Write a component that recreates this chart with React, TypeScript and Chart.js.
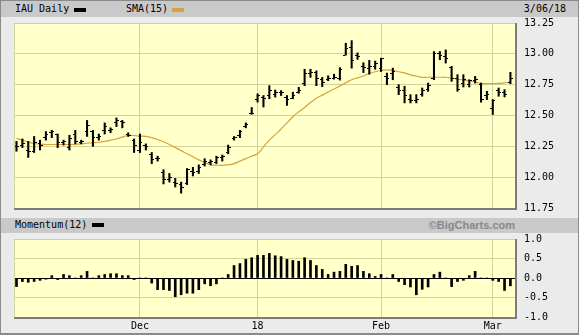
import React, { useEffect, useRef } from 'react';
import { Chart, registerables } from 'chart.js';
Chart.register(...registerables);

// ---- data (IAU daily, Nov 1 2017 .. Mar 6 2018) ----
const highs = [
  12.29, 12.31, 12.29, 12.33, 12.30, 12.37, 12.38, 12.35, 12.30, 12.34,
  12.38, 12.30, 12.46, 12.38, 12.35, 12.44, 12.40, 12.48, 12.46, 12.36,
  12.31, 12.35, 12.27, 12.20, 12.17, 12.06, 12.03, 11.99, 11.96, 12.07,
  12.08, 12.10, 12.15, 12.14, 12.17, 12.18, 12.26, 12.33, 12.38, 12.44,
  12.565, 12.676, 12.662, 12.742, 12.707, 12.702, 12.662, 12.689, 12.729, 12.875,
  12.875, 12.862, 12.809, 12.822, 12.835, 12.888, 13.086, 13.107, 13.008, 12.928,
  12.947, 12.941, 12.965, 12.844, 12.884, 12.75, 12.737, 12.669, 12.669, 12.723,
  12.763, 13.019, 13.019, 13.032, 12.898, 12.831, 12.831, 12.79, 12.817, 12.763,
  12.696, 12.629, 12.723, 12.71, 12.85,
];
const lows = [
  12.21, 12.24, 12.16, 12.20, 12.22, 12.30, 12.32, 12.24, 12.26, 12.22,
  12.27, 12.27, 12.33, 12.25, 12.30, 12.35, 12.36, 12.41, 12.40, 12.33,
  12.20, 12.20, 12.22, 12.11, 12.13, 11.945, 11.96, 11.92, 11.87, 11.94,
  12.01, 12.03, 12.09, 12.10, 12.11, 12.13, 12.19, 12.30, 12.32, 12.40,
  12.51, 12.609, 12.569, 12.636, 12.649, 12.662, 12.582, 12.636, 12.681, 12.742,
  12.809, 12.742, 12.734, 12.782, 12.795, 12.787, 12.99, 12.884, 12.955, 12.848,
  12.835, 12.875, 12.857, 12.75, 12.79, 12.669, 12.602, 12.602, 12.602, 12.656,
  12.696, 12.79, 12.952, 12.925, 12.777, 12.696, 12.731, 12.731, 12.763, 12.608,
  12.629, 12.508, 12.656, 12.65, 12.758,
];
const opens = [
  12.25, 12.26, 12.22, 12.21, 12.27, 12.32, 12.36, 12.35, 12.28, 12.24,
  12.35, 12.28, 12.37, 12.37, 12.32, 12.38, 12.38, 12.44, 12.45, 12.35,
  12.30, 12.22, 12.26, 12.18, 12.15, 12.04, 11.98, 11.96, 11.94, 11.95,
  12.05, 12.05, 12.10, 12.12, 12.12, 12.16, 12.20, 12.31, 12.34, 12.41,
  12.52, 12.63, 12.65, 12.66, 12.67, 12.69, 12.65, 12.64, 12.69, 12.76,
  12.84, 12.85, 12.79, 12.79, 12.80, 12.80, 12.99, 13.05, 12.99, 12.90,
  12.88, 12.90, 12.88, 12.82, 12.84, 12.73, 12.70, 12.63, 12.62, 12.67,
  12.71, 12.80, 13.00, 12.98, 12.89, 12.80, 12.76, 12.75, 12.78, 12.75,
  12.66, 12.56, 12.70, 12.69, 12.77,
];
const closes = [
  12.25, 12.27, 12.21, 12.28, 12.26, 12.35, 12.37, 12.28, 12.29, 12.31,
  12.29, 12.29, 12.42, 12.32, 12.33, 12.41, 12.39, 12.46, 12.44, 12.34,
  12.26, 12.28, 12.25, 12.14, 12.15, 11.98, 12.00, 11.95, 11.92, 12.06,
  12.04, 12.08, 12.13, 12.13, 12.16, 12.17, 12.24, 12.32, 12.37, 12.43,
  12.52, 12.66, 12.64, 12.70, 12.69, 12.69, 12.63, 12.66, 12.70, 12.84,
  12.85, 12.80, 12.77, 12.80, 12.81, 12.87, 13.04, 12.95, 12.98, 12.89,
  12.90, 12.92, 12.96, 12.80, 12.86, 12.70, 12.66, 12.62, 12.63, 12.70,
  12.74, 13.00, 12.99, 12.96, 12.80, 12.71, 12.79, 12.78, 12.79, 12.63,
  12.67, 12.62, 12.69, 12.67, 12.80,
];
const sma15 = [
  12.314, 12.30, 12.285, 12.273, 12.268, 12.265, 12.265, 12.265, 12.265, 12.265,
  12.267, 12.27, 12.275, 12.28, 12.283, 12.29, 12.30, 12.31, 12.325, 12.339,
  12.338, 12.333, 12.33, 12.32, 12.305, 12.287, 12.265, 12.24, 12.215, 12.19,
  12.165, 12.14, 12.12, 12.10, 12.097, 12.096, 12.10, 12.11, 12.13, 12.15,
  12.17, 12.19, 12.245, 12.30, 12.345, 12.39, 12.44, 12.49, 12.53, 12.565,
  12.605, 12.64, 12.665, 12.69, 12.715, 12.74, 12.765, 12.79, 12.805, 12.82,
  12.84, 12.855, 12.865, 12.87, 12.865, 12.855, 12.845, 12.83, 12.82, 12.81,
  12.81, 12.81, 12.81, 12.81, 12.803, 12.795, 12.787, 12.78, 12.77, 12.76,
  12.758, 12.758, 12.76, 12.765, 12.77,
];
const momentum12 = [
  -0.22, -0.09, -0.11, -0.09, -0.06, -0.03, 0.06, -0.04, 0.09, 0.06,
  0, 0.06, 0.17, 0, 0.06, 0.09, 0.11, 0.11, 0.06, 0.06,
  -0.04, 0, 0, -0.13, -0.30, -0.30, -0.32, -0.48, -0.43, -0.39,
  -0.39, -0.30, -0.15, -0.20, -0.15, 0, 0.09, 0.32, 0.37, 0.48,
  0.52, 0.58, 0.58, 0.63, 0.57, 0.55, 0.48, 0.45, 0.43, 0.52,
  0.45, 0.32, 0.22, 0.09, 0.15, 0.17, 0.35, 0.30, 0.32, 0.17,
  0.11, 0.04, 0.09, 0, 0.09, -0.09, -0.17, -0.23, -0.43, -0.29,
  -0.23, 0.09, 0.15, 0, -0.22, -0.09, -0.06, 0.06, 0.17, 0,
  0, -0.06, -0.09, -0.32, -0.20,
];
const monthTickIndex = [21, 41, 62, 81];
const monthTickLabels = ['Dec', '18', 'Feb', 'Mar'];
const priceMin = 11.75;
const priceMax = 13.25;
const priceStep = 0.25;
const momMin = -1;
const momMax = 1;
const momStep = 0.5;

const X_MIN = -0.425;
const X_MAX = 84.78;

const MONO = "'DejaVu Sans Mono', monospace";
const GRID = '#d2d29c';
const SMA_COLOR = '#d6a13e';

function makeTick(side: 'left' | 'right') {
  const c = document.createElement('canvas');
  c.width = 5;
  c.height = 1;
  const g = c.getContext('2d')!;
  g.fillStyle = '#000';
  if (side === 'left') g.fillRect(0, 0, 2, 1);
  else g.fillRect(3, 0, 2, 1);
  return c;
}

function makePattern(ctx: CanvasRenderingContext2D) {
  const c = document.createElement('canvas');
  c.width = 2;
  c.height = 2;
  const g = c.getContext('2d')!;
  g.fillStyle = '#fffff0';
  g.fillRect(0, 0, 2, 2);
  g.fillStyle = '#ffffc8';
  g.fillRect(0, 0, 1, 1);
  g.fillRect(1, 1, 1, 1);
  return ctx.createPattern(c, 'repeat');
}

const panelPlugin = {
  id: 'panel',
  beforeDraw(chart: any) {
    const { ctx, chartArea: a } = chart;
    ctx.save();
    ctx.fillStyle = makePattern(ctx) || '#ffffdd';
    ctx.fillRect(a.left, a.top, a.right - a.left, a.bottom - a.top);
    ctx.restore();
  },
  afterDraw(chart: any) {
    const { ctx, chartArea: a } = chart;
    ctx.save();
    ctx.strokeStyle = GRID;
    ctx.lineWidth = 1;
    ctx.beginPath();
    ctx.moveTo(Math.round(a.left) + 0.5, a.top);
    ctx.lineTo(Math.round(a.left) + 0.5, a.bottom);
    ctx.stroke();
    ctx.strokeStyle = '#7c7c7c';
    ctx.lineWidth = 2;
    ctx.beginPath();
    ctx.moveTo(a.left, Math.round(a.bottom) + 1);
    ctx.lineTo(Math.round(a.right) + 2, Math.round(a.bottom) + 1);
    ctx.moveTo(Math.round(a.right) + 1, a.top);
    ctx.lineTo(Math.round(a.right) + 1, Math.round(a.bottom) + 2);
    ctx.stroke();
    ctx.restore();
  },
};

function xScale(showLabels: boolean) {
  return {
    type: 'linear' as const,
    min: X_MIN,
    max: X_MAX,
    offset: false,
    bounds: 'data',
    afterBuildTicks: (s: any) => {
      s.ticks = monthTickIndex.map((v) => ({ value: v }));
    },
    afterFit: (s: any) => {
      s.height = showLabels ? 18 : 0;
    },
    ticks: {
      display: showLabels,
      autoSkip: false,
      maxRotation: 0,
      padding: 3,
      color: '#000',
      font: { family: MONO, size: 10 },
      callback: (v: number) => monthTickLabels[monthTickIndex.indexOf(v)] ?? '',
    },
    grid: { color: GRID, drawTicks: false, lineWidth: 1, offset: false },
    border: { display: false },
  };
}

function yScale(min: number, max: number, step: number, digits: number, zeroBlack: boolean) {
  return {
    position: 'right',
    min,
    max,
    beginAtZero: false,
    afterFit: (s: any) => {
      s.width = 64;
    },
    ticks: {
      stepSize: step,
      padding: 9,
      color: '#000',
      font: { family: MONO, size: 10 },
      callback: (v: any) => Number(v).toFixed(digits),
    },
    grid: {
      color: (c: any) => (zeroBlack && c.tick && c.tick.value === 0 ? '#000' : GRID),
      drawTicks: false,
    },
    border: { display: false },
  };
}

export default function App() {
  const priceRef = useRef<HTMLCanvasElement>(null);
  const momRef = useRef<HTMLCanvasElement>(null);

  useEffect(() => {
    document.body.style.margin = '0';
    const openTick = makeTick('left');
    const closeTick = makeTick('right');

    const price = new Chart(priceRef.current!, {
      type: 'bar',
      data: {
        datasets: [
          {
            type: 'line',
            data: sma15.map((v, i) => ({ x: i, y: v })),
            borderColor: SMA_COLOR,
            borderWidth: 1.2,
            pointRadius: 0,
            tension: 0.4,
            order: 3,
          } as any,
          {
            type: 'bar',
            data: highs.map((h, i) => ({ x: i, y: [lows[i], h] })),
            backgroundColor: '#000',
            barThickness: 1.4,
            grouped: false,
            order: 2,
          } as any,
          {
            type: 'line',
            data: opens.map((v, i) => ({ x: i, y: v })),
            showLine: false,
            pointStyle: openTick,
            pointRadius: 1,
            order: 1,
          } as any,
          {
            type: 'line',
            data: closes.map((v, i) => ({ x: i, y: v })),
            showLine: false,
            pointStyle: closeTick,
            pointRadius: 1,
            order: 1,
          } as any,
        ],
      },
      options: {
        animation: false,
        responsive: false,
        maintainAspectRatio: false,
        layout: { padding: { left: 14, top: 23, right: 0, bottom: 7 } },
        plugins: { legend: { display: false }, tooltip: { enabled: false } },
        scales: {
          x: xScale(false),
          y: yScale(priceMin, priceMax, priceStep, 2, false),
        },
      } as any,
      plugins: [panelPlugin],
    });

    const mom = new Chart(momRef.current!, {
      type: 'bar',
      data: {
        datasets: [
          {
            data: momentum12.map((v, i) => ({ x: i, y: v })),
            backgroundColor: '#000',
            barThickness: 2,
            grouped: false,
          } as any,
        ],
      },
      options: {
        animation: false,
        responsive: false,
        maintainAspectRatio: false,
        layout: { padding: { left: 14, top: 6, right: 0, bottom: 0 } },
        plugins: { legend: { display: false }, tooltip: { enabled: false } },
        scales: {
          x: xScale(true),
          y: yScale(momMin, momMax, momStep, 1, true),
        },
      } as any,
      plugins: [panelPlugin],
    });

    return () => {
      price.destroy();
      mom.destroy();
    };
  }, []);

  const band: React.CSSProperties = {
    position: 'absolute',
    left: 1,
    width: 577,
    background: '#c9c9c9',
  };
  const label: React.CSSProperties = {
    position: 'absolute',
    fontFamily: MONO,
    fontSize: 10,
    color: '#000',
    whiteSpace: 'nowrap',
    lineHeight: '16px',
  };
  const sw = (left: number, top: number, color: string): React.CSSProperties => ({
    position: 'absolute',
    left,
    top,
    width: 12,
    height: 4,
    background: color,
  });

  return (
    <div style={{ position: 'relative', width: 579, height: 335, background: '#ebebeb', overflow: 'hidden' }}>
      <div style={{ ...band, top: 1, height: 16 }} />
      <div style={{ ...label, left: 15, top: 1 }}>IAU Daily</div>
      <div style={sw(74, 8, '#000')} />
      <div style={{ ...label, left: 126, top: 1 }}>SMA(15)</div>
      <div style={sw(172, 8, SMA_COLOR)} />
      <div style={{ ...label, right: 13, top: 1 }}>3/06/18</div>

      <div style={{ ...band, top: 218, height: 15 }} />
      <div style={{ ...label, left: 15, top: 217 }}>Momentum(12)</div>
      <div style={sw(92, 223, '#000')} />
      <div
        style={{
          position: 'absolute',
          right: 64,
          top: 217,
          lineHeight: '16px',
          fontFamily: "'Liberation Sans', Arial, sans-serif",
          fontWeight: 'bold',
          fontSize: 11,
          color: '#888888',
        }}
      >
        ©BigCharts.com
      </div>

      <canvas ref={priceRef} width={579} height={223} style={{ position: 'absolute', left: 0, top: 0 }} />
      <canvas ref={momRef} width={579} height={111} style={{ position: 'absolute', left: 0, top: 224 }} />

      <div
        style={{
          position: 'absolute',
          left: 0,
          top: 0,
          width: 579,
          height: 335,
          boxSizing: 'border-box',
          border: '1px solid #8a8a8a',
          borderBottomWidth: 2,
          pointerEvents: 'none',
        }}
      />
    </div>
  );
}
